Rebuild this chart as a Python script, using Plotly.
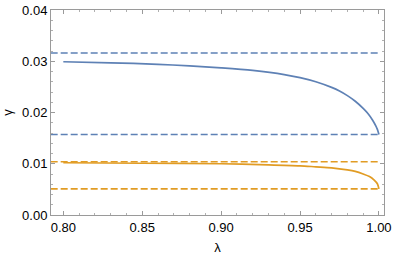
import plotly.graph_objects as go

lam_blue = [0.80, 0.83, 0.86, 0.88, 0.90, 0.92, 0.94, 0.95, 0.96, 0.97, 0.975, 0.98, 0.985, 0.99, 0.993, 0.996, 0.998, 0.999, 1.0]
gamma_blue = [0.0299, 0.0297, 0.0294, 0.0291, 0.0287, 0.0282, 0.0274, 0.0268, 0.0260, 0.0249, 0.0242, 0.0233, 0.0222, 0.0208, 0.0198, 0.0185, 0.0174, 0.0167, 0.0157]

lam_orange = [0.80, 0.85, 0.90, 0.93, 0.95, 0.96, 0.97, 0.98, 0.985, 0.99, 0.994, 0.997, 0.999, 1.0]
gamma_orange = [0.0102, 0.0101, 0.0100, 0.0098, 0.0096, 0.0094, 0.0092, 0.0088, 0.0085, 0.0080, 0.0075, 0.0068, 0.0061, 0.0051]

dash_lam = [0.792, 1.0]
blue_levels = [0.0316, 0.0157]
orange_levels = [0.0104, 0.0051]

BLUE = "#5E81B5"
ORANGE = "#E19C24"
FONT = "Liberation Sans, Arial, sans-serif"

fig = go.Figure()
for lv in blue_levels:
    fig.add_trace(go.Scatter(x=dash_lam, y=[lv, lv], mode="lines",
                             line=dict(color=BLUE, width=1.6, dash="7px,3px"), showlegend=False))
for lv in orange_levels:
    fig.add_trace(go.Scatter(x=dash_lam, y=[lv, lv], mode="lines",
                             line=dict(color=ORANGE, width=1.6, dash="7px,3px"), showlegend=False))
fig.add_trace(go.Scatter(x=lam_blue, y=gamma_blue, mode="lines",
                         line=dict(color=BLUE, width=1.7, shape="spline", smoothing=0.8), showlegend=False))
fig.add_trace(go.Scatter(x=lam_orange, y=gamma_orange, mode="lines",
                         line=dict(color=ORANGE, width=1.7, shape="spline", smoothing=0.8), showlegend=False))

axis_common = dict(showline=True, linecolor="#9a9a9a", linewidth=1, mirror="ticks",
                   ticks="inside", tickcolor="#9a9a9a", ticklen=4, showgrid=False, zeroline=False,
                   automargin=False,
                   tickfont=dict(family=FONT, size=13, color="black"))

fig.update_layout(
    width=394, height=255,
    margin=dict(l=51, r=10, t=10, b=40),
    paper_bgcolor="white", plot_bgcolor="white",
    font=dict(family=FONT, size=13, color="black"),
    xaxis=dict(range=[0.7922, 1.0032], tickvals=[0.80, 0.85, 0.90, 0.95, 1.00],
               ticktext=["0.80", "0.85", "0.90", "0.95", "1.00"],
               minor=dict(ticks="inside", ticklen=2, tickcolor="#b0b0b0", dtick=0.01, tick0=0.8),
               title=dict(text="λ", font=dict(size=13)), **axis_common),
    yaxis=dict(range=[0, 0.04], tickvals=[0, 0.01, 0.02, 0.03, 0.04],
               ticktext=["0.00", "0.01", "0.02", "0.03", "0.04"],
               minor=dict(ticks="inside", ticklen=2, tickcolor="#b0b0b0", dtick=0.002, tick0=0),
               title=dict(text="γ", font=dict(size=13)), **axis_common),
)

fig.write_html("out.html", config={"displayModeBar": False},
               post_script="document.body.style.margin='0';document.body.style.padding='0';document.body.style.overflow='hidden';")
